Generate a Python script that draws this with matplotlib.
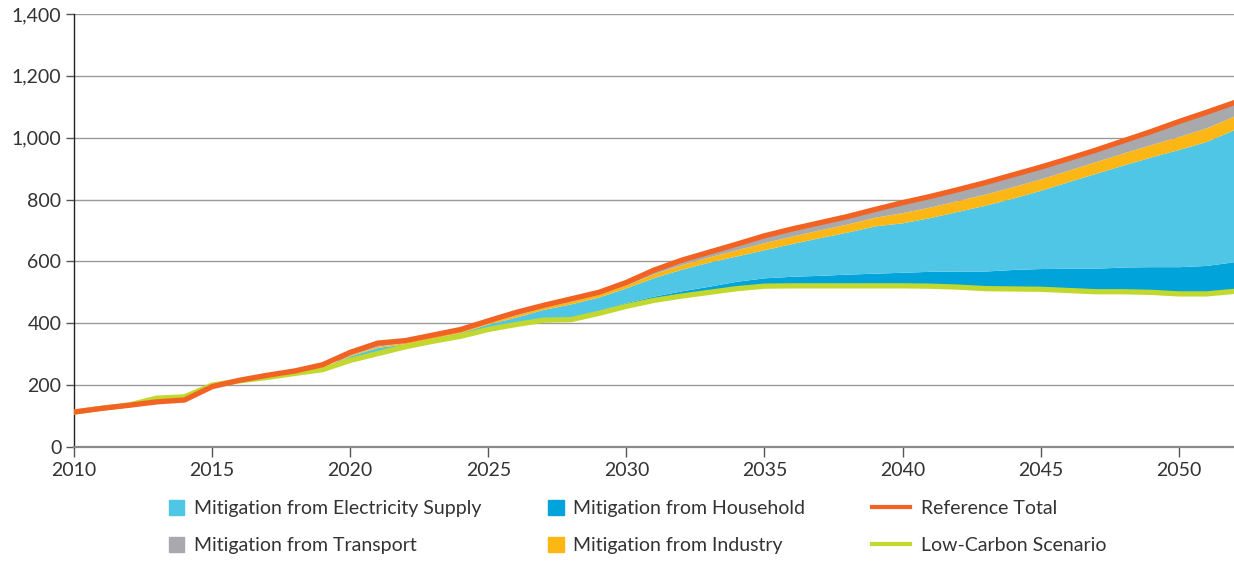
import numpy as np
import matplotlib
matplotlib.use('Agg')
import matplotlib.pyplot as plt
from matplotlib.lines import Line2D
from matplotlib.patches import Patch

plt.rcParams['font.family'] = ['Lato', 'DejaVu Sans']

# Données (2010 -> 2052)
annees = list(range(2010, 2053))

reference_total = [113, 125, 135, 146, 152, 195, 216, 232, 246, 266,
                   306, 336, 344, 362, 380, 408, 435, 458, 479, 500,
                   532, 572, 604, 630, 656, 683, 705, 725, 745, 768,
                   790, 810, 832, 855, 880, 905, 932, 960, 990, 1020,
                   1052, 1082, 1113]

bas_carbone = [113, 125, 136, 158, 162, 200, 214, 225, 238, 250,
               280, 302, 324, 342, 358, 380, 396, 410, 412, 432,
               455, 474, 488, 500, 512, 520, 521, 521, 521, 521,
               521, 520, 517, 512, 511, 510, 506, 502, 502, 500,
               495, 495, 503]

menages = [0, 0, 0, 0, 0, 0, 0, 0, 0, 0,
           0, 0, 0, 0, 0, 0, 0, 2, 6, 9,
           12, 14, 17, 20, 24, 27, 31, 34, 38, 41,
           44, 48, 52, 57, 63, 67, 72, 76, 80, 83,
           88, 92, 96]

electricite = [0, 0, 0, 0, 0, 0, 0, 0, 0, 0,
               15, 20, 10, 10, 12, 18, 24, 33, 45, 44,
               48, 60, 70, 78, 82, 91, 106, 122, 136, 153,
               160, 174, 193, 213, 231, 253, 280, 307, 330, 355,
               379, 401, 427]

industrie = [0, 0, 0, 0, 0, 0, 0, 0, 0, 0,
             3, 4, 4, 5, 5, 5, 7, 7, 9, 9,
             10, 13, 15, 17, 20, 23, 24, 25, 26, 28,
             33, 34, 35, 36, 37, 37, 37, 38, 39, 40,
             42, 44, 44]

transport = [0, 0, 0, 0, 0, 0, 0, 0, 0, 0,
             8, 10, 8, 7, 7, 5, 8, 6, 7, 6,
             7, 11, 14, 15, 18, 22, 23, 23, 24, 25,
             32, 34, 35, 37, 38, 38, 37, 37, 39, 42,
             48, 50, 43]

couleurs = {
    'household': '#00A3DA',
    'electricity': '#50C6E7',
    'industry': '#FDB714',
    'transport': '#A8A9AD',
    'reference': '#F26223',
    'lowcarbon': '#C2D82E',
}

fig = plt.figure(figsize=(12.34, 5.61), dpi=100)
ax = fig.add_axes([74 / 1234, 1 - 447 / 561, 1 - 74 / 1234, (447 - 14) / 561])

x = np.array(annees)
base = np.array(bas_carbone, dtype=float)
couches = [
    (menages, couleurs['household']),
    (electricite, couleurs['electricity']),
    (industrie, couleurs['industry']),
    (transport, couleurs['transport']),
]
for valeurs, couleur in couches:
    haut = base + np.array(valeurs, dtype=float)
    ax.fill_between(x, base, haut, color=couleur, linewidth=0, zorder=2)
    base = haut

ax.plot(x, bas_carbone, color=couleurs['lowcarbon'], linewidth=3.8, zorder=3,
        solid_joinstyle='miter')
ax.plot(x, reference_total, color=couleurs['reference'], linewidth=3.8, zorder=4,
        solid_joinstyle='miter')

ax.set_xlim(2010, 2052)
ax.set_ylim(0, 1400)
ax.set_xticks(range(2010, 2051, 5))
ax.set_yticks(range(0, 1401, 200))
ax.set_yticklabels([f'{v:,}' for v in range(0, 1401, 200)])

ax.grid(axis='y', color='#9a9a9a', linewidth=1.0, zorder=1)
ax.set_axisbelow(True)
for cote in ['top', 'right']:
    ax.spines[cote].set_visible(False)
ax.spines['left'].set_color('#222222')
ax.spines['left'].set_linewidth(1.0)
ax.spines['bottom'].set_color('#8a8a8a')
ax.spines['bottom'].set_linewidth(1.6)
ax.tick_params(axis='y', length=6, width=1, color='#555555', labelsize=14,
               labelcolor='#333333', pad=3)
ax.tick_params(axis='x', length=7, width=1, color='#555555', labelsize=14,
               labelcolor='#333333', pad=4)

# Légende : carrés pour les surfaces, traits pour les courbes
carres = [
    Patch(color=couleurs['electricity']),
    Patch(color=couleurs['transport']),
    Patch(color=couleurs['household']),
    Patch(color=couleurs['industry']),
]
noms_carres = [
    'Mitigation from Electricity Supply',
    'Mitigation from Transport',
    'Mitigation from Household',
    'Mitigation from Industry',
]
traits = [
    Line2D([], [], color=couleurs['reference'], linewidth=3),
    Line2D([], [], color=couleurs['lowcarbon'], linewidth=3),
]
noms_traits = ['Reference Total', 'Low-Carbon Scenario']

y_leg = 1 - 527 / 561
fig.legend(carres, noms_carres, ncol=2, loc='center left',
           bbox_to_anchor=(151 / 1234, y_leg), frameon=False,
           fontsize=14, handlelength=0.82, handleheight=0.82, handletextpad=0.5,
           columnspacing=3.4, labelspacing=1.0, labelcolor='#333333')
fig.legend(traits, noms_traits, ncol=1, loc='center left',
           bbox_to_anchor=(854 / 1234, y_leg), frameon=False,
           fontsize=14, handlelength=1.96, handletextpad=0.57,
           labelspacing=1.0, labelcolor='#333333')

plt.savefig('out.png', dpi=100)
